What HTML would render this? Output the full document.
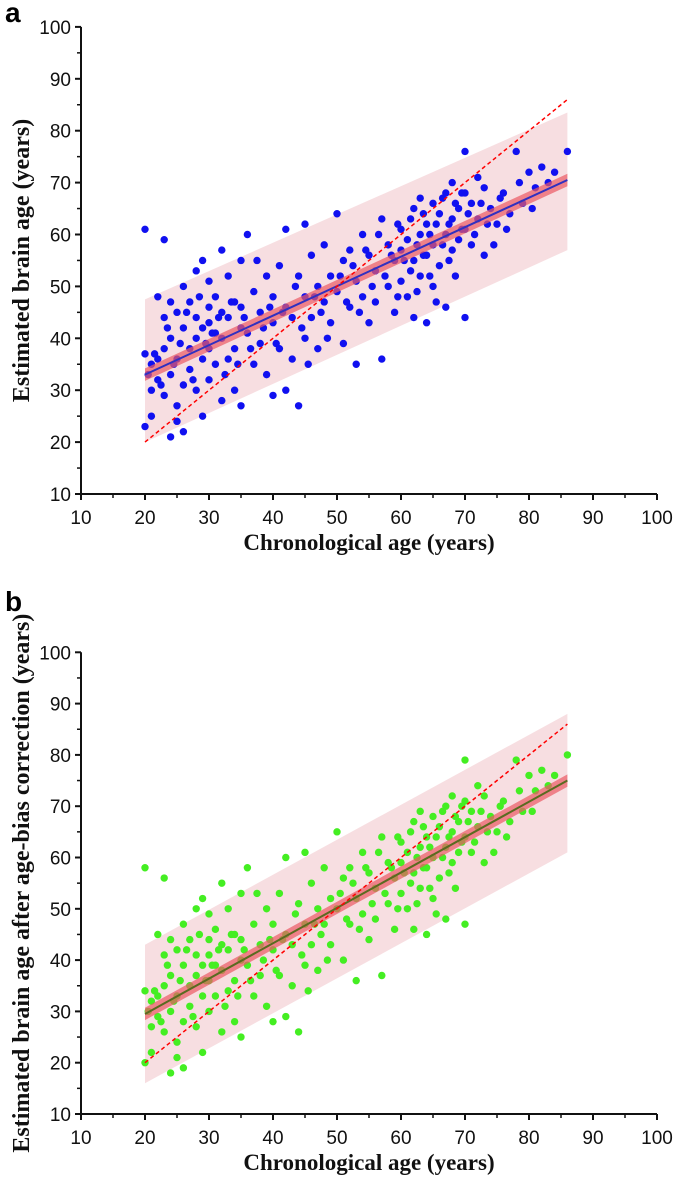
<!DOCTYPE html>
<html><head><meta charset="utf-8"><style>
html,body{margin:0;padding:0;background:#fff;width:685px;height:1181px;overflow:hidden}
svg{display:block}
.tk{font-family:"Liberation Sans",sans-serif;font-size:19px;fill:#111}
.xt{font-family:"Liberation Serif",serif;font-weight:bold;font-size:23px;fill:#111}
.yt{font-family:"Liberation Serif",serif;font-weight:bold;font-size:24px;fill:#111}
.lab{font-family:"Liberation Sans",sans-serif;font-weight:bold;font-size:28px;fill:#000}
</style></head><body>
<svg id="chart" width="685" height="1181" viewBox="0 0 685 1181" xmlns="http://www.w3.org/2000/svg"></svg>
<script>
const ages=[20,20,20,21,21,21,22,22,22,23,23,23,23,24,24,24,24,25,25,25,25,26,26,26,26,27,27,27,28,28,28,28,29,29,29,29,30,30,30,30,30,31,31,31,32,32,32,32,33,33,33,34,34,34,35,35,35,35,36,36,37,37,38,38,39,39,40,40,40,41,41,42,42,42,43,43,44,44,45,45,45,46,46,47,47,48,48,49,49,50,50,51,51,52,52,53,53,54,54,55,55,56,56,57,57,58,58,59,59,60,60,60,61,61,62,62,62,63,63,63,64,64,64,65,65,65,66,66,67,67,67,68,68,68,69,69,70,70,70,70,71,71,72,72,73,73,74,75,76,77,78,79,80,81,82,83,84,86,
20.5,21.5,22.5,23.5,24.5,25.5,26.5,27.5,28.5,29.5,30.5,31.5,32.5,33.5,34.5,35.5,36.5,37.5,38.5,39.5,40.5,41.5,43.5,44.5,45.5,46.5,47.5,48.5,50.5,51.5,52.5,53.5,54.5,55.5,56.5,57.5,58.5,59.5,59.5,60.5,61.5,61.5,62.5,62.5,63.5,63.5,64.5,64.5,65.5,65.5,66.5,66.5,67.5,67.5,68.5,68.5,69.5,69.5,70.5,71.5,72.5,73.5,74.5,75.5,76.5,78.5,80.5];
const estA=[61,37,23,35,30,25,48,36,32,59,44,38,29,47,40,33,21,45,36,27,24,50,42,31,22,47,38,34,53,44,40,30,55,42,36,25,51,46,43,38,32,48,41,35,57,45,40,28,52,44,36,47,38,30,55,46,42,27,60,41,49,35,45,39,52,33,48,43,29,54,38,61,46,30,44,36,52,27,62,48,40,56,44,50,38,58,47,43,52,64,49,55,39,57,46,51,35,60,48,56,43,53,47,63,36,58,50,55,45,61,57,51,59,48,65,55,44,67,60,52,62,56,43,66,58,50,64,54,68,60,46,70,63,57,65,59,76,68,61,44,66,58,71,63,69,56,65,62,68,64,76,66,72,69,73,70,72,76,
33,37,31,42,35,39,45,32,48,39,41,44,33,47,35,44,38,55,42,46,39,45,50,42,35,48,45,40,52,47,54,45,57,50,60,52,56,62,48,55,63,53,58,49,64,56,60,52,62,47,58,67,62,55,66,52,61,68,64,60,66,62,58,67,61,70,65];
const estB=[58,34,20,32,27,22,45,33,29,56,41,35,26,44,37,30,18,42,33,24,21,47,39,28,19,44,35,31,50,41,37,27,52,39,33,22,49,44,41,36,30,46,39,33,55,43,38,26,50,42,34,45,36,28,53,44,40,25,58,39,47,33,43,37,50,31,47,42,28,53,37,60,45,29,43,35,51,26,61,47,39,55,43,50,38,58,47,43,52,65,50,56,40,58,47,52,36,61,49,57,44,54,48,64,37,59,51,56,46,63,59,53,61,50,67,57,46,69,62,54,64,58,45,68,60,52,66,56,70,62,48,72,65,59,67,61,79,71,64,47,69,61,74,66,72,59,68,65,71,67,79,69,76,73,77,74,76,80,
30,34,28,39,32,36,42,29,45,36,39,42,31,45,33,42,36,53,40,44,38,44,49,41,34,47,45,40,53,48,55,46,58,51,61,53,58,64,50,57,65,55,60,51,66,58,62,54,64,49,60,69,64,57,68,54,63,70,67,63,69,65,61,70,64,73,69];
// band / fit values [at x=20, at x=86]
const bandX=[20,86];
const fitA=[33,70.5], ciA=[1.2,1.2], piA=[[20,47.5],[57,83.5]];
const fitB=[29.5,75], ciB=[1.2,1.2], piB=[[16,43],[61,88]];
const identity=[[20,20],[86,86]];
const ticks=[10,20,30,40,50,60,70,80,90,100];

const NS="http://www.w3.org/2000/svg";
const svg=document.getElementById('chart');
function mk(tag,attrs,parent){const e=document.createElementNS(NS,tag);for(const k in attrs)e.setAttribute(k,attrs[k]);(parent||svg).appendChild(e);return e;}

function panel(cfg){
  const g=mk('g',{});
  
  
  const X=v=>81+(v-10)*6.4;
  const Y=v=>cfg.y10-(v-10)*cfg.sy;
  const pb=mk('polygon',{points:`${X(bandX[0])},${Y(cfg.pi[0][1])} ${X(bandX[1])},${Y(cfg.pi[1][1])} ${X(bandX[1])},${Y(cfg.pi[1][0])} ${X(bandX[0])},${Y(cfg.pi[0][0])}`,fill:'rgba(232,160,170,0.35)'},g);
  
  
  const pg=mk('g',{},g);
  
  
  for(let i=0;i<ages.length;i++){
    const c=mk('circle',{cx:X(ages[i]),cy:Y(cfg.vals[i]),r:3.7,fill:cfg.dot},pg);
    
    
  }
  const cb=mk('polygon',{points:`${X(bandX[0])},${Y(cfg.fit[0]+cfg.ci[0])} ${X(bandX[1])},${Y(cfg.fit[1]+cfg.ci[1])} ${X(bandX[1])},${Y(cfg.fit[1]-cfg.ci[1])} ${X(bandX[0])},${Y(cfg.fit[0]-cfg.ci[0])}`,fill:'rgba(235,90,100,0.7)'},g);
  
  
  const fl=mk('line',{x1:X(bandX[0]),y1:Y(cfg.fit[0]),x2:X(bandX[1]),y2:Y(cfg.fit[1]),stroke:cfg.line,'stroke-width':2},g);
  
  
  const il=mk('line',{x1:X(identity[0][0]),y1:Y(identity[0][1]),x2:X(identity[1][0]),y2:Y(identity[1][1]),stroke:'#f00','stroke-width':1.5,'stroke-dasharray':'4,3'},g);
  
  
  const ax=mk('path',{d:`M81,${Y(100)} V${Y(10)} H${X(100)}`,stroke:'#111','stroke-width':2,fill:'none'},g);
  
  
  ticks.forEach((t,i)=>{
    mk('line',{x1:X(t),y1:Y(10),x2:X(t),y2:Y(10)+6,stroke:'#111','stroke-width':2},g);
    mk('line',{x1:75,y1:Y(t),x2:81,y2:Y(t),stroke:'#111','stroke-width':2},g);
    if(i<ticks.length-1){
      mk('line',{x1:X(t+5),y1:Y(10),x2:X(t+5),y2:Y(10)+4,stroke:'#111','stroke-width':1.5},g);
      mk('line',{x1:77,y1:Y(t+5),x2:81,y2:Y(t+5),stroke:'#111','stroke-width':1.5},g);
    }
    const xt=mk('text',{x:X(t),y:Y(10)+30,'text-anchor':'middle',class:'tk'},g);xt.textContent=t;
    
    
    const yt=mk('text',{x:71,y:Y(t)+7,'text-anchor':'end',class:'tk'},g);yt.textContent=t;
    
    
  });
  const xtl=mk('text',{x:X(55),y:Y(10)+56,'text-anchor':'middle',class:'xt'},g);xtl.textContent='Chronological age (years)';
  
  
  const cy=(Y(100)+Y(10))/2;
  const ytl=mk('text',{x:0,y:0,'text-anchor':'middle',class:'yt',transform:`translate(29,${cy+cfg.yoff}) rotate(-90)`},g);ytl.textContent=cfg.ytitle;
  
  
  const pl=mk('text',{x:5,y:cfg.labY,class:'lab'},g);pl.textContent=cfg.letter;
  
  
}
panel({name:'panel-a',y10:494,sy:5.19,vals:estA,fit:fitA,ci:ciA,pi:piA,dot:'#1010f0',line:'#3030c0',ytitle:'Estimated brain age (years)',yoff:0,letter:'a',labY:22});
panel({name:'panel-b',y10:1114,sy:5.13,vals:estB,fit:fitB,ci:ciB,pi:piB,dot:'#44ee22',line:'#5a6a20',ytitle:'Estimated brain age after age-bias correction (years)',yoff:0,letter:'b',labY:611});
</script>
</body></html>
